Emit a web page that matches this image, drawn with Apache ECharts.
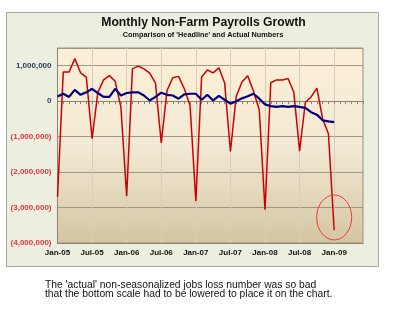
<!DOCTYPE html>
<html><head><meta charset="utf-8">
<script src="https://cdn.jsdelivr.net/npm/echarts@6/dist/echarts.min.js"></script>
<style>html,body{margin:0;padding:0;background:#fff;}#c{width:400px;height:322px;}</style>
</head><body><div id="c"></div>
<script>
var categories = ['Jan-05','Feb-05','Mar-05','Apr-05','May-05','Jun-05','Jul-05','Aug-05','Sep-05','Oct-05','Nov-05','Dec-05',
'Jan-06','Feb-06','Mar-06','Apr-06','May-06','Jun-06','Jul-06','Aug-06','Sep-06','Oct-06','Nov-06','Dec-06',
'Jan-07','Feb-07','Mar-07','Apr-07','May-07','Jun-07','Jul-07','Aug-07','Sep-07','Oct-07','Nov-07','Dec-07',
'Jan-08','Feb-08','Mar-08','Apr-08','May-08','Jun-08','Jul-08','Aug-08','Sep-08','Oct-08','Nov-08','Dec-08',
'Jan-09','Feb-09','Mar-09','Apr-09','May-09','Jun-09'];
// thousands of jobs
var actualNSA = [-2700,820,820,1200,800,680,-1060,250,600,720,560,-170,
-2680,910,990,910,790,510,-1180,300,660,700,350,-120,
-2820,680,880,800,940,510,-1420,130,540,720,280,-240,
-3060,520,600,600,640,250,-1410,-30,120,370,-500,-920,
-3640];
var headlineSA = [130,210,120,320,180,250,350,230,120,120,350,160,
230,250,250,160,20,120,240,180,160,70,190,210,
210,40,180,20,150,40,-70,0,80,140,210,70,
-90,-140,-160,-140,-160,-140,-160,-190,-310,-380,-540,-570,
-590];
var titleText = 'Monthly Non-Farm Payrolls Growth';
var subText = "Comparison of 'Headline' and Actual Numbers";
var noteLines = ["The 'actual' non-seasonalized jobs loss number was so bad", "that the bottom scale had to be lowered to place it on the chart."];
var circleCenter = [48, -3280000];

var chart = echarts.init(document.getElementById('c'), null, {renderer:'canvas'});
function fmt(v){
  var s = Math.abs(v).toString().replace(/\B(?=(\d{3})+(?!\d))/g, ',');
  return v < 0 ? '(' + s + ')' : s;
}
var font = 'Liberation Sans, Arial, sans-serif';
chart.setOption({
  animation:false,
  backgroundColor:'#fff',
  graphic:[
    {type:'rect', z:-10, shape:{x:6.5,y:12.5,width:372,height:254}, style:{fill:'#ECEFE0', stroke:'#A8A8A0', lineWidth:1}},
    {type:'text', x:203.5, y:23, style:{text:titleText, fontSize:12.2, fontWeight:'bold', fontFamily:font, fill:'#111', align:'center', verticalAlign:'middle'}},
    {type:'text', x:203, y:35, style:{text:subText, fontSize:7.3, fontWeight:'bold', fontFamily:font, fill:'#111', align:'center', verticalAlign:'middle'}},
    {type:'text', x:45, y:285.5, style:{text:noteLines[0], fontSize:10.3, fontFamily:font, fill:'#111', align:'left', verticalAlign:'middle'}},
    {type:'text', x:45, y:294.5, style:{text:noteLines[1], fontSize:10.3, fontFamily:font, fill:'#111', align:'left', verticalAlign:'middle'}}
  ],
  grid:{left:57.5, right:37, top:48, bottom:79, show:true, borderColor:'#9A9080', borderWidth:1,
    backgroundColor:{type:'linear',x:0,y:0,x2:0,y2:1,colorStops:[{offset:0,color:'#FCEFD6'},{offset:0.5,color:'#F3EAD5'},{offset:1,color:'#D4C5A2'}]}},
  xAxis:[
    {type:'category', data:categories, boundaryGap:false, position:'bottom',
     axisLine:{onZero:false, lineStyle:{color:'#8C8272'}},
     axisTick:{show:false},
     axisLabel:{interval:5, color:'#111', fontSize:8, fontWeight:'bold', fontFamily:font, margin:6},
     splitLine:{show:true, interval:5, lineStyle:{color:'#D6CDBD', width:1}}},
    {type:'category', data:categories, boundaryGap:false, position:'top',
     axisLine:{onZero:true, lineStyle:{color:'#8C8272'}},
     axisTick:{show:true, inside:true, interval:0, length:3, lineStyle:{color:'#8C8272'}},
     axisLabel:{show:false}, splitLine:{show:false}}
  ],
  yAxis:{type:'value', min:-4000000, max:1500000, interval:1000000,
    axisLine:{show:true, lineStyle:{color:'#8C8272'}},
    axisTick:{show:false},
    axisLabel:{showMaxLabel:false, formatter:fmt, fontSize:8, fontWeight:'bold', fontFamily:font, margin:6,
      color:function(v){return Number(v) < 0 ? '#E8333A' : '#2E3C55';}},
    splitLine:{lineStyle:{color:'#A09686', width:1}}},
  series:[
    {name:'Actual', type:'line', data:actualNSA.map(function(v){return v*1000;}), symbol:'none',
     lineStyle:{color:'#CC0000', width:1.5}, z:3},
    {name:'Headline', type:'line', data:headlineSA.map(function(v){return v*1000;}), symbol:'none',
     lineStyle:{color:'#000080', width:2.2}, z:4}
  ]
});
var p = chart.convertToPixel({xAxisIndex:0, yAxisIndex:0}, circleCenter);
chart.setOption({graphic:[{}, {}, {}, {}, {}, {type:'ellipse', z:10, shape:{cx:p[0], cy:p[1], rx:17.5, ry:22.5},
  style:{fill:'none', stroke:'#F03A3A', lineWidth:1}}]});
</script></body></html>
